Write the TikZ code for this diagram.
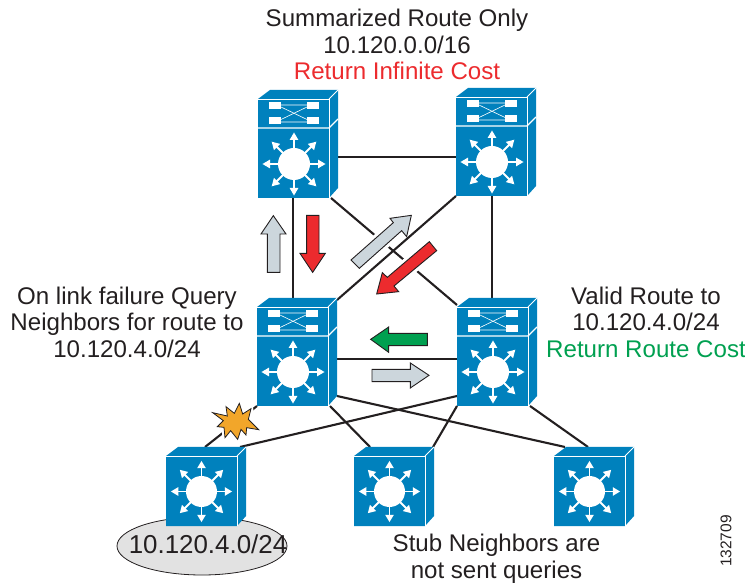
\documentclass[tikz,border=0pt]{standalone}
\usepackage{fontspec}
\setmainfont{Liberation Sans}
\usetikzlibrary{shapes.geometric}
\definecolor{ciscob}{HTML}{0081BD}
\definecolor{arrg}{HTML}{CCD6DC}
\definecolor{arrr}{HTML}{EC2B2E}
\definecolor{arrn}{HTML}{00A050}
\definecolor{burstc}{HTML}{F2A62A}
\definecolor{ellc}{HTML}{E2E2E2}
\definecolor{inkc}{HTML}{231F20}
\tikzset{
  x=1pt,y=-1pt,
  boxnode/.style={minimum width=80pt,minimum height=108pt,inner sep=0,outer sep=0},
  smallnode/.style={minimum width=80pt,minimum height=79pt,inner sep=0,outer sep=0},
  link/.style={line width=2.1pt,draw=inkc},
  fatarr/.style={draw=inkc,line width=.9pt,line join=miter},
  halo/.style={draw=white,line width=7pt,line join=round},
  lab/.style={font=\fontsize{24.1}{26.6}\selectfont,align=center,text=inkc,inner sep=0},
}
\newcommand{\hubglyph}[3]{%
  \begin{scope}[shift={(#1,#2)}]
  \fill[white] (0,0) circle (#3);
  \foreach \a in {0,45,...,315}{
    \begin{scope}[rotate=\a]
      \draw[white,line width=1.9pt] (#3-1,0) -- (#3*1.6,0);
      \fill[white] (#3*1.97,0) -- (#3*1.5,-4.4) -- (#3*1.5,4.4) -- cycle;
    \end{scope}}
  \end{scope}}
\newcommand{\smallswitch}[2]{%
  \begin{scope}[shift={(#1,#2)}]
  \fill[ciscob] (0,0) -- (12,-9) -- (80,-9) -- (80,60) -- (71,70) -- (0,70) -- cycle;
  \draw[white,line width=.8pt] (0,0) -- (71,0) -- (71,70);
  \draw[white,line width=.8pt] (71,0) -- (80,-9);
  \hubglyph{35.5}{35.5}{15.5}
  \end{scope}}
\newcommand{\bigswitch}[2]{%
  \begin{scope}[shift={(#1,#2)}]
  \fill[ciscob] (0,0) -- (12,-9) -- (80,-9) -- (80,89) -- (71,99) -- (0,99) -- cycle;
  \draw[white,line width=.8pt] (0,0) -- (71,0) -- (71,99);
  \draw[white,line width=.8pt] (71,0) -- (80,-9);
  \draw[white,line width=1.1pt] (0,29) -- (71,29) -- (80,20);
  \fill[white] (11,3) rectangle (23,10.5);
  \fill[white] (49,3) rectangle (61,10.5);
  \fill[white] (11,18) rectangle (23,25.5);
  \fill[white] (49,18) rectangle (61,25.5);
  \draw[white,line width=.6pt] (23,6) -- (49,6) (23,23) -- (49,23) (23,8) -- (49,20.5) (23,20.5) -- (49,8);
  \hubglyph{36}{65}{16}
  \end{scope}}
\begin{document}
\begin{tikzpicture}
\useasboundingbox (0,0) rectangle (745,585);
% named device boxes (outline invisible, icon drawn later)
\node[boxnode] (tl) at (298,144) {};
\node[boxnode] (tr) at (496,142) {};
\node[boxnode] (ml) at (297,352) {};
\node[boxnode] (mr) at (497,352) {};
\node[smallnode] (bl) at (206,486.5) {};
\node[smallnode] (bm) at (394,486.5) {};
\node[smallnode] (br) at (594,486.5) {};
% ellipse
\node[ellipse,draw=inkc,fill=ellc,line width=.8pt,minimum width=170pt,minimum height=58pt,inner sep=0] (net) at (202,546) {};
% link under the halos
\draw[link] ([xshift=-7pt]tl.south east) -- ([yshift=-7pt]mr.north west);
% fat arrows (with white halo)
\begin{scope}[shift={(250,200)},scale=1/3]
  \def\gd{(303,180) -- (430,68) -- (420,55) -- (484,46) -- (470,110) -- (455,92) -- (328,205) -- cycle}
  \def\rd{(538,125) -- (412,232) -- (397,218) -- (380,282) -- (446,275) -- (432,258) -- (560,152) -- cycle}
  \path[halo] \gd;
  \path[halo] \rd;
  \path[fatarr,fill=arrg] \gd;
  \path[fatarr,fill=arrr] \rd;
  \path[fatarr,fill=arrg] (52,217) -- (52,102) -- (33,102) -- (70,47) -- (108,102) -- (90,102) -- (90,217) -- cycle;
  \path[fatarr,fill=arrr] (170,46) -- (207,46) -- (207,160) -- (226,160) -- (188,217) -- (150,160) -- (170,160) -- cycle;
  \path[fatarr,fill=arrn] (362,418) -- (416,381) -- (416,400) -- (532,400) -- (532,437) -- (416,437) -- (416,457) -- cycle;
  \path[fatarr,fill=arrg] (366,508) -- (481,508) -- (481,489) -- (537,526) -- (481,564) -- (481,545) -- (366,545) -- cycle;
\end{scope}
% links
\draw[link] ([yshift=-13pt]tl.east) -- ([yshift=-15pt]tr.west);
\draw[link] ([xshift=-5pt]tl.south) -- ([xshift=-4pt]ml.north);
\draw[link] ([xshift=-4pt]tr.south) -- ([xshift=-5pt]mr.north);
\draw[link] ([yshift=-2pt]ml.north east) -- (tr.south west);
\draw[link] ([yshift=-7pt]ml.east) -- ([yshift=-7pt]mr.west);
\draw[link] ([yshift=-44pt]ml.east) -- ([xshift=-29pt]br.north);
\draw[link] ([yshift=-44pt]mr.west) -- ([xshift=-6pt]bl.north east);
\draw[link] ([xshift=-7pt]ml.south east) -- ([xshift=-24pt]bm.north);
\draw[link] (mr.south west) -- ([xshift=-1pt]bm.north east);
\draw[link] ([xshift=-7pt]mr.south east) -- ([xshift=-6pt]br.north);
\draw[link] ([xshift=-1pt]bl.north) -- (ml.south west);
% burst
\begin{scope}[shift={(140,390)},scale=1/3]
  \def\bu{(218,68) -- (262,78) -- (258,50) -- (283,70) -- (298,40) -- (308,72) -- (333,56) -- (325,88) -- (356,119) -- (320,113) -- (318,135) -- (303,118) -- (293,148) -- (272,122) -- (255,143) -- (252,112) -- (232,110) -- (250,92) -- cycle}
  \path[draw=white,line width=5pt,line join=round] \bu;
  \path[draw=inkc,line width=.8pt,fill=burstc] \bu;
\end{scope}
% device icons
\bigswitch{258}{99}
\bigswitch{456}{97}
\bigswitch{257}{307}
\bigswitch{457}{307}
\smallswitch{166}{456}
\smallswitch{354}{456}
\smallswitch{554}{456}
% labels
\node[lab] (t1) at (397,44.5) {Summarized Route Only\\10.120.0.0/16\\\textcolor{arrr}{Return Infinite Cost}};
\node[lab] (t2) at (127,322) {On link failure Query\\Neighbors for route to\\10.120.4.0/24};
\node[lab] (t3) at (646,322) {Valid Route to\\10.120.4.0/24\\\textcolor{arrn}{Return Route Cost}};
\node[lab,font=\fontsize{25.9}{28}\selectfont] (t4) at (208,544) {10.120.4.0/24};
\node[lab] (t5) at (496.5,558.5) {Stub Neighbors are\\not sent queries};
\node[lab,rotate=90,font=\fontsize{15.5}{18}\selectfont] (t6) at (726,541) {132709};
\end{tikzpicture}
\end{document}
